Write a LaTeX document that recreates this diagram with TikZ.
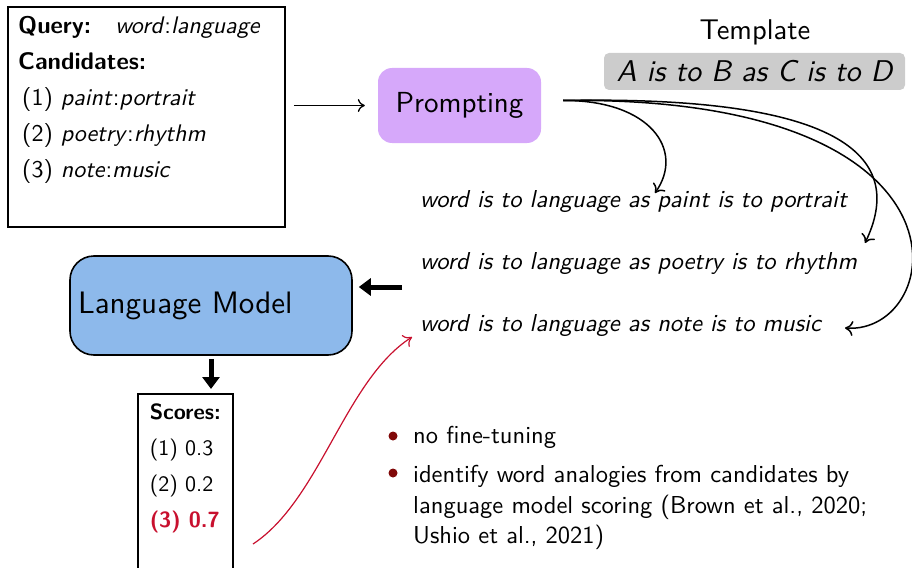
\documentclass[tikz,border=0pt]{standalone}
\usepackage{fontspec}
\usepackage{tikz}
\usetikzlibrary{arrows.meta,positioning,calc}
% 10pt design of LM Sans at every size
\setsansfont{lmsans10}[Extension=.otf, UprightFont=*-regular, BoldFont=*-bold,
  ItalicFont=*-oblique, BoldItalicFont=*-boldoblique]
\renewcommand{\familydefault}{\sfdefault}
\definecolor{prmviolet}{RGB}{214,168,250}
\definecolor{lmblue}{RGB}{141,185,235}
\definecolor{tmplgray}{RGB}{204,204,204}
\definecolor{scred}{RGB}{200,16,46}
\definecolor{bulred}{RGB}{128,8,8}
\newcommand{\qw}[2]{\textit{#1}:\textit{#2}}
\tikzset{
  qbox/.style={draw, line width=1.9pt, minimum width=277pt, minimum height=220pt,
               anchor=north west, inner sep=0pt},
  qtxt/.style={anchor=north west, align=left, inner sep=0pt,
               font=\fontsize{24}{36}\selectfont},
  prmbox/.style={fill=prmviolet, rounded corners=14pt, minimum width=163pt,
                 minimum height=75pt, font=\fontsize{29}{32}\selectfont},
  lmbox/.style={draw, line width=1.6pt, fill=lmblue, rounded corners=24pt,
                minimum width=282pt, minimum height=99pt, text width=266pt,
                align=left, inner xsep=8pt, font=\fontsize{31}{34}\selectfont},
  tmpl/.style={fill=tmplgray, rounded corners=5pt, minimum width=301pt,
               minimum height=37pt, inner sep=0pt, font=\fontsize{30}{32}\selectfont\itshape},
  sent/.style={anchor=west, inner sep=0pt, font=\fontsize{24.5}{28}\selectfont\itshape},
  scbox/.style={draw, line width=1.6pt, anchor=north west, align=left, inner xsep=8pt,
                inner ysep=10pt, minimum width=95pt, font=\fontsize{22}{36}\selectfont},
  btxt/.style={anchor=west, align=left, inner sep=0pt,
               font=\fontsize{24.5}{30.5}\selectfont},
  bdot/.style={circle, fill=bulred, inner sep=0pt, minimum size=9pt},
  thinarr/.style={-{To[length=7pt,width=13pt]}, line width=1.3pt},
  gen/.style={-{To[length=8pt,width=15pt]}, line width=1.5pt},
  bigarr/.style={-{Triangle[length=12pt,width=17pt]}, line width=5pt},
  redarr/.style={-{To[length=8pt,width=14pt]}, scred, line width=1.2pt},
}
\begin{document}
\begin{tikzpicture}[x=1pt,y=-1pt]
  \useasboundingbox (0,0) rectangle (912,567);

  % query and candidates
  \node[qbox] (query) at (7,6) {};
  \node[qtxt] (qtext) at (18,16) {\textbf{Query:}\quad\qw{word}{language}\\
    \textbf{Candidates:}\\
    \,(1) \qw{paint}{portrait}\\
    \,(2) \qw{poetry}{rhythm}\\
    \,(3) \qw{note}{music}};

  % prompting with the template
  \node[prmbox] (prm) at (459.5,105.5) {Prompting};
  \node[font=\fontsize{28.5}{32}\selectfont] (tlabel) at (755,32) {Template};
  \node[tmpl] (tmpl) at (754.5,71.5) {A is to B as C is to D};

  % prompted sentences
  \node[sent] (s1) at (420,202) {word is to language as paint is to portrait};
  \node[sent] (s2) at (420,264) {word is to language as poetry is to rhythm};
  \node[sent] (s3) at (420,326) {word is to language as note is to music};

  \node[lmbox] (lm) at (211,305.5) {Language Model};
  \node[scbox] (scores) at (137,393) {\textbf{Scores:}\\
    (1) 0.3\\
    (2) 0.2\\
    \textcolor{scred}{\bfseries (3) 0.7}\\[40pt]\strut};

  % notes
  \node[bdot] (d1) at (393,436) {};
  \node[bdot] (d2) at (393,473) {};
  \node[btxt] (b1) at (413,437) {no fine-tuning};
  \node[btxt, anchor=north west] (b2) at (413,465.5) {identify word analogies from candidates by\\
    language model scoring (Brown et al., 2020;\\
    Ushio et al., 2021)};

  \coordinate (pout) at ($(prm.east)+(22,-5)$);
  \coordinate (e1) at (655,193);
  \coordinate (e2) at (865,243);
  \coordinate (e3) at (845,328);
  \coordinate (lmin) at (402,287);
  \coordinate (rs) at (253,544);
  \coordinate (re) at (412,337);

  \draw[thinarr, shorten <=8pt, shorten >=13pt] (query.east |- prm.west) -- (prm.west);
  \draw[gen] (pout) .. controls (650,100) and (685,150) .. (e1);
  \draw[gen] (pout) .. controls (850,95) and (905,160) .. (e2);
  \draw[gen] (pout) .. controls (990,95) and (945,335) .. (e3);
  \draw[bigarr, shorten >=6pt] (lmin) -- (lm.east |- lmin);
  \draw[bigarr, shorten <=3pt, shorten >=4pt] (lm.south) -- (scores.north -| lm.south);
  \draw[redarr] (rs) .. controls (320,500) and (345,380) .. (re);
\end{tikzpicture}
\end{document}
